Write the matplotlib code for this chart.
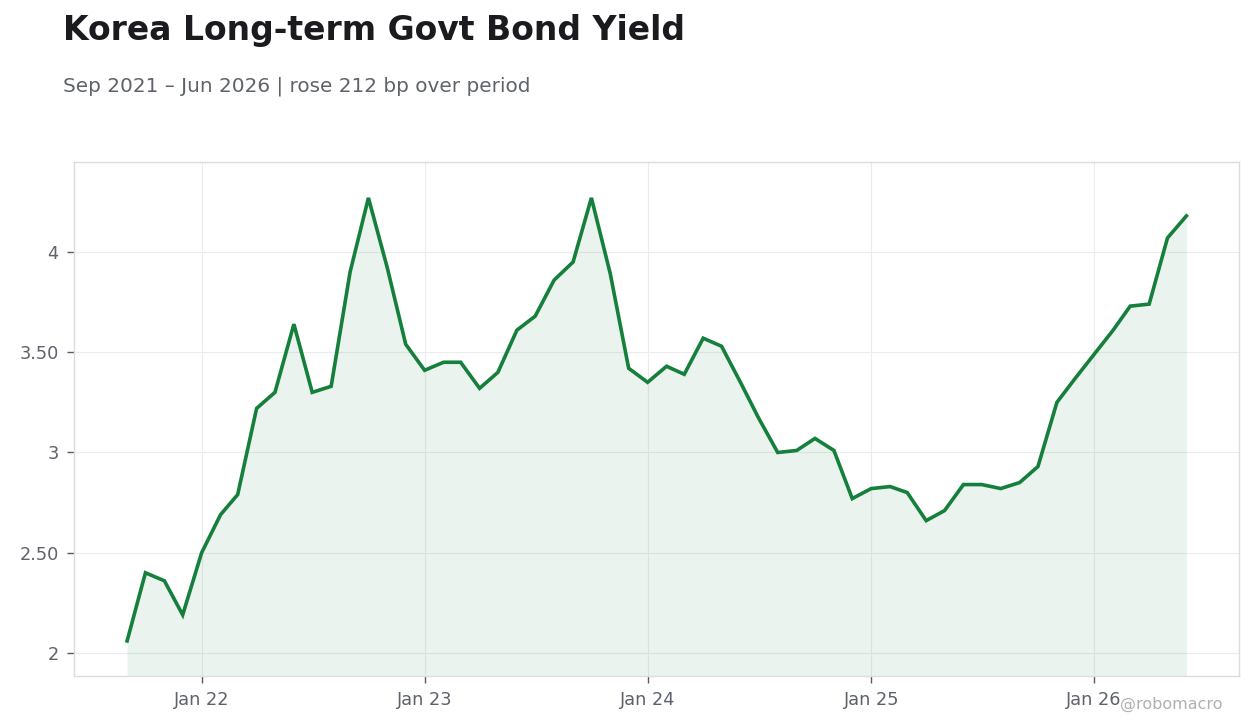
import numpy as np
import pandas as pd
import matplotlib
matplotlib.use("Agg")
import matplotlib.pyplot as plt
import matplotlib.dates as mdates

# monthly yields, Sep 2021 .. Jun 2026
months = pd.date_range("2021-09-01", "2026-06-01", freq="MS")
yields = [
    2.06, 2.40, 2.36, 2.19,                                              # 2021
    2.50, 2.69, 2.79, 3.22, 3.30, 3.64, 3.30, 3.33, 3.90, 4.27, 3.92, 3.54,  # 2022
    3.41, 3.45, 3.45, 3.32, 3.40, 3.61, 3.68, 3.86, 3.95, 4.27, 3.89, 3.42,  # 2023
    3.35, 3.43, 3.39, 3.57, 3.53, 3.35, 3.17, 3.00, 3.01, 3.07, 3.01, 2.77,  # 2024
    2.82, 2.83, 2.80, 2.66, 2.71, 2.84, 2.84, 2.82, 2.85, 2.93, 3.25, 3.37,  # 2025
    3.49, 3.61, 3.73, 3.74, 4.07, 4.18,                                   # 2026
]
y_ticks = [2, 2.5, 3, 3.5, 4]
y_tick_labels = ["2", "2.50", "3", "3.50", "4"]

green = "#157f3c"
grey_txt = "#5f626c"

fig = plt.figure(figsize=(12.6, 7.28), dpi=100)
ax = fig.add_axes([0.0587, 0.0714, 0.9246, 0.7061])

ax.fill_between(months, yields, 1.0, color=green, alpha=0.085, linewidth=0)
ax.plot(months, yields, color=green, linewidth=2.6, solid_joinstyle="miter")

ax.set_xlim(pd.Timestamp("2021-06-06"), pd.Timestamp("2026-08-26"))
ax.set_ylim(1.885, 4.449)

ax.set_yticks(y_ticks)
ax.set_yticklabels(y_tick_labels)
ax.xaxis.set_major_locator(mdates.YearLocator())
ax.xaxis.set_major_formatter(mdates.DateFormatter("Jan %y"))

ax.grid(True, color="#ececec", linewidth=0.8)
ax.set_axisbelow(True)
for sp in ax.spines.values():
    sp.set_color("#dcdcdc")
    sp.set_linewidth(1.0)
ax.tick_params(axis="both", colors="#5a5a5a", labelcolor=grey_txt,
               labelsize=12.8, length=5, width=1, pad=6)

fig.text(0.05, 0.981, "Korea Long-term Govt Bond Yield", fontsize=23.8,
         fontweight="bold", color="#1b1b1f", ha="left", va="top")
fig.text(0.05, 0.882, "Sep 2021 \u2013 Jun 2026 | rose 212 bp over period",
         fontsize=14.4, color=grey_txt, ha="left", va="center")
fig.text(0.97, 0.032, "@robomacro", fontsize=11.5, color="#b0b0b0",
         ha="right", va="center")

fig.savefig("out.png", dpi=100, facecolor="white")
